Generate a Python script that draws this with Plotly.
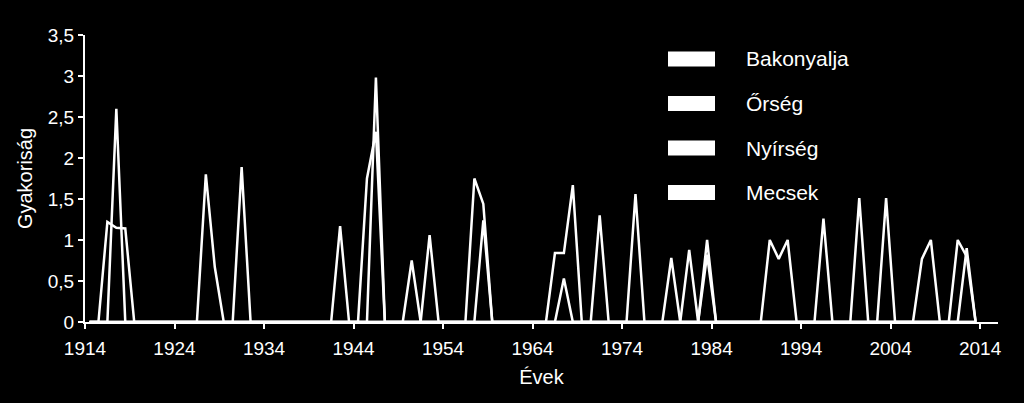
import plotly.graph_objects as go

# years 1914..2013, frequencies per region (only non-zero years listed)
years = list(range(1914, 2014))

bakonyalja_years = [1916, 1917, 1918, 1942, 1945, 1946, 1957, 1958, 1971, 1983, 2000, 2012]
bakonyalja_vals = [1.22, 1.15, 1.14, 1.17, 1.75, 2.32, 1.75, 1.44, 1.30, 1.00, 1.51, 0.90]

orseg_years = [1917, 1946, 1958, 1975, 1983, 2003]
orseg_vals = [2.60, 2.98, 1.24, 1.56, 0.82, 1.51]

nyirseg_years = [1927, 1928, 1950, 1966, 1967, 1968, 1979, 1990, 1991, 1992, 2007, 2008]
nyirseg_vals = [1.80, 0.67, 0.75, 0.84, 0.84, 1.67, 0.78, 1.00, 0.77, 1.00, 0.77, 1.00]

mecsek_years = [1931, 1952, 1967, 1981, 1996, 2011, 2012]
mecsek_vals = [1.89, 1.06, 0.53, 0.88, 1.26, 1.00, 0.80]

series = [
    ("Bakonyalja", bakonyalja_years, bakonyalja_vals),
    ("Őrség", orseg_years, orseg_vals),
    ("Nyírség", nyirseg_years, nyirseg_vals),
    ("Mecsek", mecsek_years, mecsek_vals),
]

FONT = "Liberation Sans, Arial, sans-serif"

fig = go.Figure()
for name, yrs, vals in series:
    lookup = dict(zip(yrs, vals))
    fig.add_trace(go.Scatter(
        x=[y + 0.5 for y in years],   # each year drawn in the middle of its slot
        y=[lookup.get(y, 0) for y in years],
        mode="lines",
        name=name,
        line=dict(color="white", width=2.5),
        showlegend=False,
    ))

# hand-made legend: thick white bars + labels
L, R, T, B = 85, 998, 35, 322   # plot area in pixels
def px(xp): return (xp - L) / (R - L)
def py(yp): return (B - yp) / (B - T)

for i, (name, _, _) in enumerate(series):
    cy = 59 + i * 44.5
    fig.add_shape(type="rect", xref="paper", yref="paper",
                  x0=px(668), x1=px(715), y0=py(cy + 7.5), y1=py(cy - 7.5),
                  fillcolor="white", line=dict(width=0))
    fig.add_annotation(xref="paper", yref="paper", x=px(744), y=py(cy),
                       text=name, showarrow=False, xanchor="left", yanchor="middle",
                       font=dict(family=FONT, size=21, color="white"))

fig.update_layout(
    width=1024, height=403,
    margin=dict(l=L, r=1024 - R, t=T, b=403 - B),
    paper_bgcolor="black", plot_bgcolor="black",
    separators=", ",
    font=dict(family=FONT, size=19, color="white"),
    showlegend=False,
)
fig.update_xaxes(
    range=[1914, 2016], tick0=1914, dtick=10,
    showgrid=False, zeroline=False,
    showline=True, linecolor="white", linewidth=2,
    ticks="outside", ticklen=5, tickwidth=2, tickcolor="white",
    ticklabelstandoff=3,
    title=dict(text="Évek", font=dict(size=20), standoff=12),
)
fig.update_yaxes(
    range=[0, 3.5], dtick=0.5,
    showgrid=False, zeroline=False,
    showline=True, linecolor="white", linewidth=2,
    ticks="outside", ticklen=5, tickwidth=2, tickcolor="white",
    title=dict(text="Gyakoriság", font=dict(size=20), standoff=10),
)

fig.write_html("out.html", config={"displayModeBar": False},
               post_script="document.body.style.margin='0';")
